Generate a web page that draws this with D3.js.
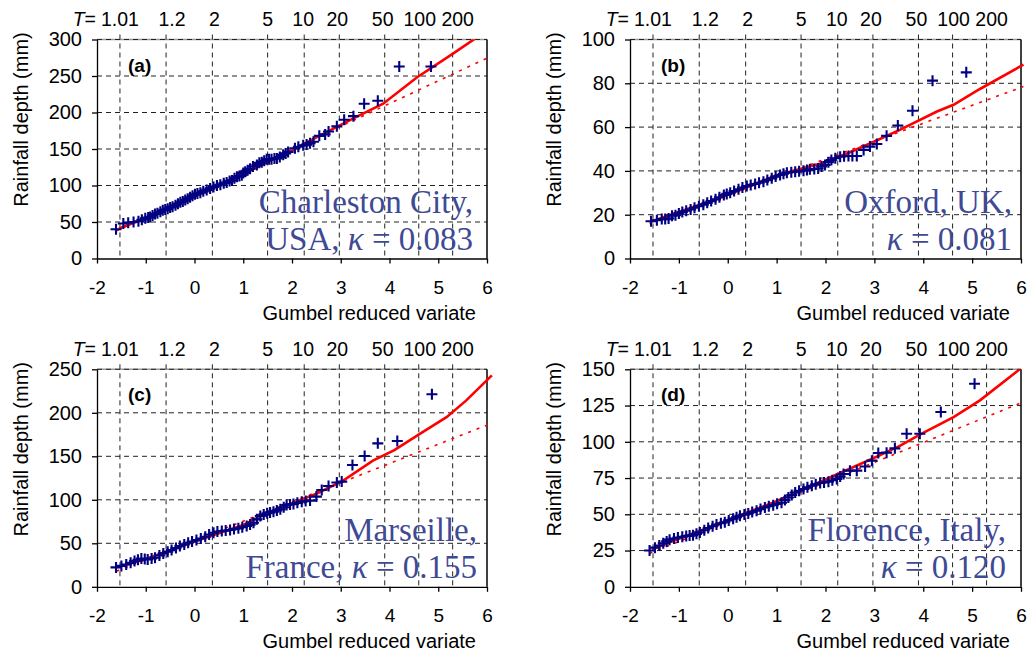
<!DOCTYPE html>
<html>
<head>
<meta charset="utf-8">
<script src="https://cdn.jsdelivr.net/npm/d3@7"></script>
<style>
  body { margin: 0; background: #fff; }
  svg { display: block; }
  .axis text { font-family: "Liberation Sans", Arial, sans-serif; font-size: 19px; fill: #000; }
  .axis path, .axis line { stroke: #000; stroke-width: 1.3; }
</style>
</head>
<body>
<script>
// return periods shown across the top of every panel
const returnPeriods = [1.01, 1.2, 2, 5, 10, 20, 50, 100, 200];
const xTicks = [-2, -1, 0, 1, 2, 3, 4, 5, 6];
// small sideways nudges of the T labels, as typed in the original
const tLabelNudge = [0, 6, 2, 0, -1, -2, -2, 1, 5];

// (a) Charleston City
const charlestonPts = [[-1.61,40],[-1.46,48],[-1.36,49],[-1.25,50],[-1.15,51],[-1.08,53],[-1.01,55],[-0.95,56],[-0.91,57],[-0.86,59],[-0.81,61],[-0.76,62],[-0.7,64],[-0.65,66],[-0.6,67],[-0.55,68],[-0.5,70],[-0.45,71],[-0.39,73],[-0.34,75],[-0.29,77],[-0.24,78],[-0.19,80],[-0.14,82],[-0.09,84],[-0.04,86],[0.01,88],[0.06,89],[0.12,90],[0.18,92],[0.25,94],[0.32,96],[0.39,98],[0.46,100],[0.53,101],[0.6,103],[0.66,104],[0.72,106],[0.77,107],[0.82,110],[0.87,112],[0.92,113],[0.97,114],[1.0,117],[1.04,119],[1.09,121],[1.14,123],[1.2,126],[1.28,128],[1.33,131],[1.38,132],[1.43,134],[1.48,136],[1.53,136],[1.58,136],[1.64,137],[1.69,137],[1.75,139],[1.82,142],[1.87,144],[1.92,146],[2.06,151],[2.13,153],[2.23,155],[2.3,156],[2.37,158],[2.44,160],[2.56,168],[2.68,170],[2.75,174],[2.92,181],[3.07,190],[3.26,195],[3.48,212],[3.76,216],[4.2,263],[4.85,263]];
const charlestonGev = [[-1.55,41],[-1,55],[0,85],[1,116],[2,148],[2.5,166],[3.26,192],[3.87,212],[4.56,248],[5.31,281],[5.86,306],[6,312]];
const charlestonGumbel = [[-1.6,38],[6.05,276]];

// (b) Oxford
const oxfordPts = [[-1.57,17],[-1.45,17.5],[-1.35,18],[-1.28,18],[-1.21,18.3],[-1.14,19.5],[-1.07,19.8],[-1.0,20.5],[-0.93,21.2],[-0.85,21.8],[-0.76,22.4],[-0.68,23.2],[-0.59,23.9],[-0.5,24.6],[-0.42,25.4],[-0.34,26.2],[-0.25,27],[-0.17,28],[-0.08,29],[-0.02,29.5],[0.05,30],[0.13,30.8],[0.22,31.6],[0.3,32.4],[0.39,33.1],[0.47,33.6],[0.56,34],[0.64,34.6],[0.73,35.1],[0.81,35.8],[0.9,36.6],[0.98,37.4],[1.07,38.1],[1.14,38.7],[1.21,39.2],[1.3,39.4],[1.38,39.6],[1.46,39.8],[1.55,40.1],[1.62,40.4],[1.68,40.7],[1.77,40.9],[1.85,41.1],[1.92,42],[1.99,42.7],[2.06,44],[2.12,45],[2.2,45.8],[2.3,46.5],[2.38,46.7],[2.47,46.8],[2.55,46.8],[2.64,46.8],[2.78,49.6],[2.91,51.1],[3.05,52.3],[3.25,56],[3.48,60.7],[3.78,67.5],[4.19,81.2],[4.88,85]];
const oxfordGev = [[-1.55,17],[0,29],[1,38],[2,44],[2.5,48.5],[3,53.4],[3.52,58.7],[4.28,67.1],[4.62,70.2],[5.16,77.4],[6.05,88.5]];
const oxfordGumbel = [[-1.6,16],[6.05,78.5]];

// (c) Marseille
const marseillePts = [[-1.61,22.3],[-1.5,24],[-1.4,25.7],[-1.31,27.5],[-1.23,29.6],[-1.16,31],[-1.09,32.6],[-1.02,32],[-0.96,31.5],[-0.88,32.5],[-0.81,33.4],[-0.72,36],[-0.64,38.4],[-0.55,40.3],[-0.47,42.2],[-0.38,44.5],[-0.3,46.8],[-0.21,48.7],[-0.13,50.6],[-0.05,52],[0.04,53.7],[0.13,55.6],[0.22,57.6],[0.3,60],[0.39,62.2],[0.47,63.5],[0.56,64.1],[0.64,64.6],[0.73,65.3],[0.81,66.3],[0.9,67.2],[0.98,68.5],[1.07,69.9],[1.14,71.5],[1.21,73.7],[1.28,77.5],[1.35,81.4],[1.42,83],[1.49,84.5],[1.55,85.5],[1.62,86.4],[1.69,87.7],[1.76,89.1],[1.83,91.5],[1.89,94.1],[1.96,94.7],[2.03,95.2],[2.11,96.5],[2.2,97.9],[2.28,98.5],[2.37,99.1],[2.5,103.7],[2.61,111.3],[2.75,115.9],[2.92,119.8],[3.02,120.9],[3.24,140],[3.49,150.3],[3.76,164.9],[4.16,167.6],[4.87,221.3]];
const marseilleGev = [[-1.55,23],[-1,32],[0,52],[1,71],[1.5,85],[2,96],[2.5,107],[3.05,122],[3.66,145],[4.1,157],[4.63,176],[5.17,195],[5.57,214],[6.1,243]];
const marseilleGumbel = [[-1.6,18],[6.05,187]];

// (d) Florence
const florencePts = [[-1.6,25],[-1.49,27],[-1.4,28.5],[-1.32,30],[-1.25,31.3],[-1.19,32.5],[-1.1,33.3],[-1.02,34],[-0.93,34.5],[-0.85,35],[-0.78,35.3],[-0.71,35.5],[-0.64,36.5],[-0.57,37.5],[-0.48,39],[-0.4,40.5],[-0.31,41.8],[-0.23,43],[-0.14,43.8],[-0.06,44.5],[0.02,45.8],[0.11,47],[0.18,48],[0.25,49],[0.34,49.8],[0.42,50.5],[0.5,51.5],[0.59,52.5],[0.67,53.6],[0.76,54.7],[0.84,55.5],[0.93,56.3],[1.01,57.2],[1.1,58],[1.17,59.8],[1.24,61.6],[1.31,63.3],[1.38,65],[1.46,66.2],[1.55,67.4],[1.63,68.6],[1.72,69.7],[1.8,70.7],[1.89,71.6],[1.97,72],[2.06,72.5],[2.14,73.5],[2.23,74.4],[2.3,76],[2.37,77.8],[2.5,80.1],[2.64,80.1],[2.81,83],[2.95,87],[3.08,92.3],[3.25,92.5],[3.42,95.5],[3.66,105.6],[3.93,105.6],[4.36,120.5],[5.05,140]];
const florenceGev = [[-1.55,26],[0,46],[1,59],[2,74],[3,89],[3.53,97.3],[3.93,105],[4.62,117],[5.16,128.6],[6.05,152]];
const florenceGumbel = [[-1.6,23],[6.05,127.5]];

const panels = [
  { tag: '(a)', pts: charlestonPts, gev: charlestonGev, gum: charlestonGumbel, yMax: 300, yTicks: [0, 50, 100, 150, 200, 250, 300],
    place: ['Charleston City,', 'USA, '], kappa: '0.083', left: 97, top: 39.5, w: 390, h: 219, txtRight: 14 },
  { tag: '(b)', pts: oxfordPts, gev: oxfordGev, gum: oxfordGumbel, yMax: 100, yTicks: [0, 20, 40, 60, 80, 100],
    place: ['Oxford, UK,', ''], kappa: '0.081', left: 630, top: 39.5, w: 391, h: 219, txtRight: 9 },
  { tag: '(c)', pts: marseillePts, gev: marseilleGev, gum: marseilleGumbel, yMax: 250, yTicks: [0, 50, 100, 150, 200, 250],
    place: ['Marseille,', 'France, '], kappa: '0.155', left: 97, top: 369.3, w: 390, h: 217.5, txtRight: 10 },
  { tag: '(d)', pts: florencePts, gev: florenceGev, gum: florenceGumbel, yMax: 150, yTicks: [0, 25, 50, 75, 100, 125, 150],
    place: ['Florence, Italy,', ''], kappa: '0.120', left: 630, top: 369.3, w: 391, h: 217.5, txtRight: 15 },
];

const svg = d3.select('body').append('svg')
  .attr('width', 1027)
  .attr('height', 653);

const gumbelVariate = (T) => -Math.log(-Math.log(1 - 1 / T));
const sans = '"Liberation Sans", Arial, sans-serif';
const serif = '"Liberation Serif", "Times New Roman", serif';

panels.forEach((p, i) => {
  const x = d3.scaleLinear().domain([-2, 6]).range([0, p.w]);
  const y = d3.scaleLinear().domain([0, p.yMax]).range([p.h, 0]);
  const g = svg.append('g').attr('transform', `translate(${p.left},${p.top})`);

  g.append('clipPath').attr('id', `clip${i}`)
    .append('rect').attr('x', 0).attr('y', 0).attr('width', p.w + 8).attr('height', p.h);

  // top border, grey under the dashed grid line
  g.append('line')
    .attr('x1', 0).attr('x2', p.w)
    .attr('y1', 0).attr('y2', 0)
    .style('stroke', '#999')
    .style('stroke-width', 1.5);

  // horizontal grid
  g.selectAll('line.hgrid')
    .data(p.yTicks.filter((t) => t > 0))
    .enter()
    .append('line')
    .classed('hgrid', true)
    .attr('x1', 0)
    .attr('x2', p.w)
    .attr('y1', (d) => y(d))
    .attr('y2', (d) => y(d))
    .style('stroke', '#222')
    .style('stroke-width', 1)
    .style('stroke-dasharray', '5,4');

  // vertical grid at return periods
  g.selectAll('line.vgrid')
    .data(returnPeriods)
    .enter()
    .append('line')
    .classed('vgrid', true)
    .attr('x1', (d) => x(gumbelVariate(d)))
    .attr('x2', (d) => x(gumbelVariate(d)))
    .attr('y1', -5)
    .attr('y2', p.h)
    .style('stroke', '#222')
    .style('stroke-width', 1)
    .style('stroke-dasharray', '5,4');

  // right border
  g.append('line')
    .attr('x1', p.w).attr('x2', p.w)
    .attr('y1', 0).attr('y2', p.h)
    .style('stroke', '#000')
    .style('stroke-width', 1.5);

  // T labels on top
  svg.append('text')
    .attr('x', p.left + x(gumbelVariate(1.01)) - 24)
    .attr('y', p.top - 13.5)
    .attr('text-anchor', 'end')
    .style('font-family', sans)
    .style('font-size', '19.5px')
    .html('<tspan font-style="italic">T</tspan>=');
  g.selectAll('text.tlab')
    .data(returnPeriods)
    .enter()
    .append('text')
    .classed('tlab', true)
    .attr('x', (d, k) => x(gumbelVariate(d)) + tLabelNudge[k])
    .attr('y', -13.5)
    .attr('text-anchor', 'middle')
    .style('font-family', sans)
    .style('font-size', '19.5px')
    .text((d) => d);

  // axes
  const yAxis = g.append('g').classed('axis', true)
    .call(d3.axisLeft(y).tickValues(p.yTicks).tickSize(5).tickSizeOuter(0).tickPadding(10));
  yAxis.selectAll('text').style('font-family', sans).style('font-size', '20px');
  const xAxis = g.append('g').classed('axis', true)
    .attr('transform', `translate(0,${p.h})`)
    .call(d3.axisBottom(x).tickValues(xTicks).tickFormat((d) => String(d))
      .tickSize(5).tickSizeOuter(0).tickPadding(17));
  xAxis.selectAll('text').style('font-family', sans);

  g.append('text')
    .attr('x', p.w - 11)
    .attr('y', p.h + 61)
    .attr('text-anchor', 'end')
    .style('font-family', sans)
    .style('font-size', '20px')
    .text('Gumbel reduced variate');

  g.append('text')
    .attr('transform', `translate(${-76},${80}) rotate(-90)`)
    .attr('text-anchor', 'middle')
    .attr('dy', '0.35em')
    .style('font-family', sans)
    .style('font-size', '20px')
    .text('Rainfall depth (mm)');

  g.append('text')
    .attr('x', 31)
    .attr('y', 32)
    .style('font-family', sans)
    .style('font-size', '19px')
    .style('font-weight', 'bold')
    .text(p.tag);

  const line = d3.line().x((d) => x(d[0])).y((d) => y(d[1]));
  const marks = g.append('g').attr('clip-path', `url(#clip${i})`);

  marks.append('path')
    .datum(p.gum)
    .attr('d', line)
    .style('fill', 'none')
    .style('stroke', '#ff0000')
    .style('stroke-width', 1.6)
    .style('stroke-dasharray', '3,6');

  marks.append('path')
    .datum(p.gev)
    .attr('d', line)
    .style('fill', 'none')
    .style('stroke', '#ff0000')
    .style('stroke-width', 2.6);

  // crosses
  const cs = 5.5;
  marks.selectAll('path.pt')
    .data(p.pts)
    .enter()
    .append('path')
    .classed('pt', true)
    .attr('d', (d) => `M${x(d[0]) - cs},${y(d[1])}h${2 * cs}M${x(d[0])},${y(d[1]) - cs}v${2 * cs}`)
    .style('stroke', '#000080')
    .style('stroke-width', 2.1)
    .style('fill', 'none');

  // station label
  const lab = g.append('text')
    .attr('text-anchor', 'end')
    .style('font-family', serif)
    .style('font-size', '33px')
    .style('fill', '#3f4a94');
  lab.append('tspan').attr('x', p.w - p.txtRight).attr('y', p.h - 46).text(p.place[0]);
  const l2 = lab.append('tspan').attr('x', p.w - p.txtRight).attr('y', p.h - 9);
  l2.append('tspan').text(p.place[1]);
  l2.append('tspan').style('font-style', 'italic').text('κ');
  l2.append('tspan').text(` = ${p.kappa}`);
});
</script>
</body>
</html>
